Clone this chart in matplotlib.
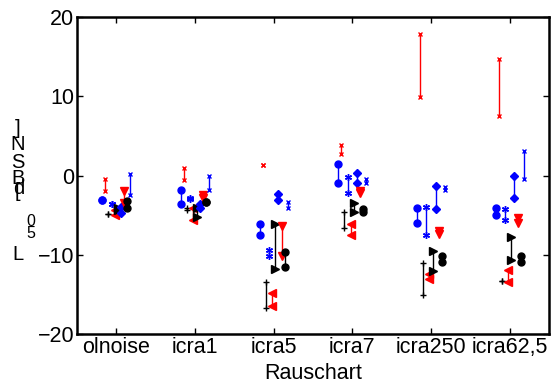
import numpy as np
import matplotlib
matplotlib.use("Agg")
import matplotlib.pyplot as plt

plt.rcParams['font.family'] = ['Liberation Sans', 'DejaVu Sans']

categories = ['olnoise', 'icra1', 'icra5', 'icra7', 'icra250', 'icra62,5']

# each series: first and second value per category (joined by a vertical line)
blue_o_a = [-3.1, -1.8, -6.1, 1.4, -4.1, -4.1]
blue_o_b = [-3.1, -3.6, -7.5, -0.9, -6.0, -5.0]
red_x_a = [-0.4, 1.0, 1.3, 3.8, 17.8, 14.7]
red_x_b = [-2.0, -0.6, 1.3, 2.7, 9.9, 7.5]
black_plus_a = [-4.8, -4.1, -13.5, -4.6, -11.1, -13.3]
black_plus_b = [-4.8, -4.3, -16.7, -6.6, -15.1, -13.3]
blue_star_a = [-3.6, -2.8, -9.4, -0.2, -4.0, -4.2]
blue_star_b = [-3.6, -3.0, -10.2, -2.2, -7.5, -5.6]
red_left_a = [-4.4, -4.1, -14.8, -6.1, -12.4, -11.9]
red_left_b = [-5.0, -5.6, -16.5, -7.5, -13.0, -13.5]
black_right_a = [-4.1, -4.1, -6.1, -3.5, -9.5, -7.8]
black_right_b = [-4.4, -5.2, -11.8, -4.6, -12.0, -10.6]
blue_dia_a = [-4.0, -3.6, -2.3, 0.3, -1.3, -0.1]
blue_dia_b = [-4.7, -4.1, -3.1, -0.9, -4.2, -2.9]
red_down_a = [-2.0, -2.5, -6.4, -1.9, -7.0, -5.3]
red_down_b = [-3.5, -2.8, -10.2, -2.2, -7.4, -6.0]
black_o_a = [-3.2, -3.3, -9.6, -4.2, -10.2, -10.1]
black_o_b = [-4.1, -3.3, -11.6, -4.6, -10.9, -10.9]
blue_x_a = [0.2, 0.0, -3.4, -0.4, -1.5, 3.1]
blue_x_b = [-2.5, -1.8, -4.1, -1.0, -1.8, -0.5]

series = [
    (blue_o_a, blue_o_b, 'b', 'o', 5),
    (red_x_a, red_x_b, 'r', 'x', 3.5),
    (black_plus_a, black_plus_b, 'k', '+', 5),
    (blue_star_a, blue_star_b, 'b', (6, 2, 0), 5),
    (red_left_a, red_left_b, 'r', '<', 5.5),
    (black_right_a, black_right_b, 'k', '>', 5.5),
    (blue_dia_a, blue_dia_b, 'b', 'D', 3.8),
    (red_down_a, red_down_b, 'r', 'v', 5.5),
    (black_o_a, black_o_b, 'k', 'o', 5),
    (blue_x_a, blue_x_b, 'b', 'x', 3.5),
]

fig = plt.figure(figsize=(5.52, 3.83), dpi=100)
ax = fig.add_axes([77 / 552, 49 / 383, 472 / 552, 317 / 383])

pos = np.arange(1, len(categories) + 1)
offsets = np.linspace(-0.18, 0.18, len(series))

for (a, b, col, mk, ms), off in zip(series, offsets):
    for i in range(len(categories)):
        x = pos[i] + off
        ax.plot([x, x], [a[i], b[i]], color=col, lw=1, marker=mk, ms=ms,
                mew=1, mfc=col, mec=col)

ax.set_xlim(0.5, 6.5)
ax.set_ylim(-20, 20)
ax.set_xticks(pos)
ax.set_xticklabels(categories)
ax.set_yticks([-20, -10, 0, 10, 20])
ax.tick_params(direction='in', length=4, width=1, labelsize=15.5, pad=2,
               top=True, right=True)
for s in ax.spines.values():
    s.set_linewidth(1.8)
ax.set_xlabel('Rauschart', fontsize=15.5, labelpad=4)

# stacked y label characters
ylab = [(']', 18, 128), ('N', 18, 145), ('S', 18, 162), ('B', 18, 178),
        ('d', 19, 189), ('[', 17, 192), ('L', 18, 255)]
for ch, px, py in ylab:
    fig.text(px / 552, 1 - py / 383, ch, fontsize=14.5, ha='center', va='center')
for ch, px, py in [('0', 31, 222), ('5', 31, 233)]:
    fig.text(px / 552, 1 - py / 383, ch, fontsize=11.5, ha='center', va='center')

fig.savefig('out.png', dpi=100)
